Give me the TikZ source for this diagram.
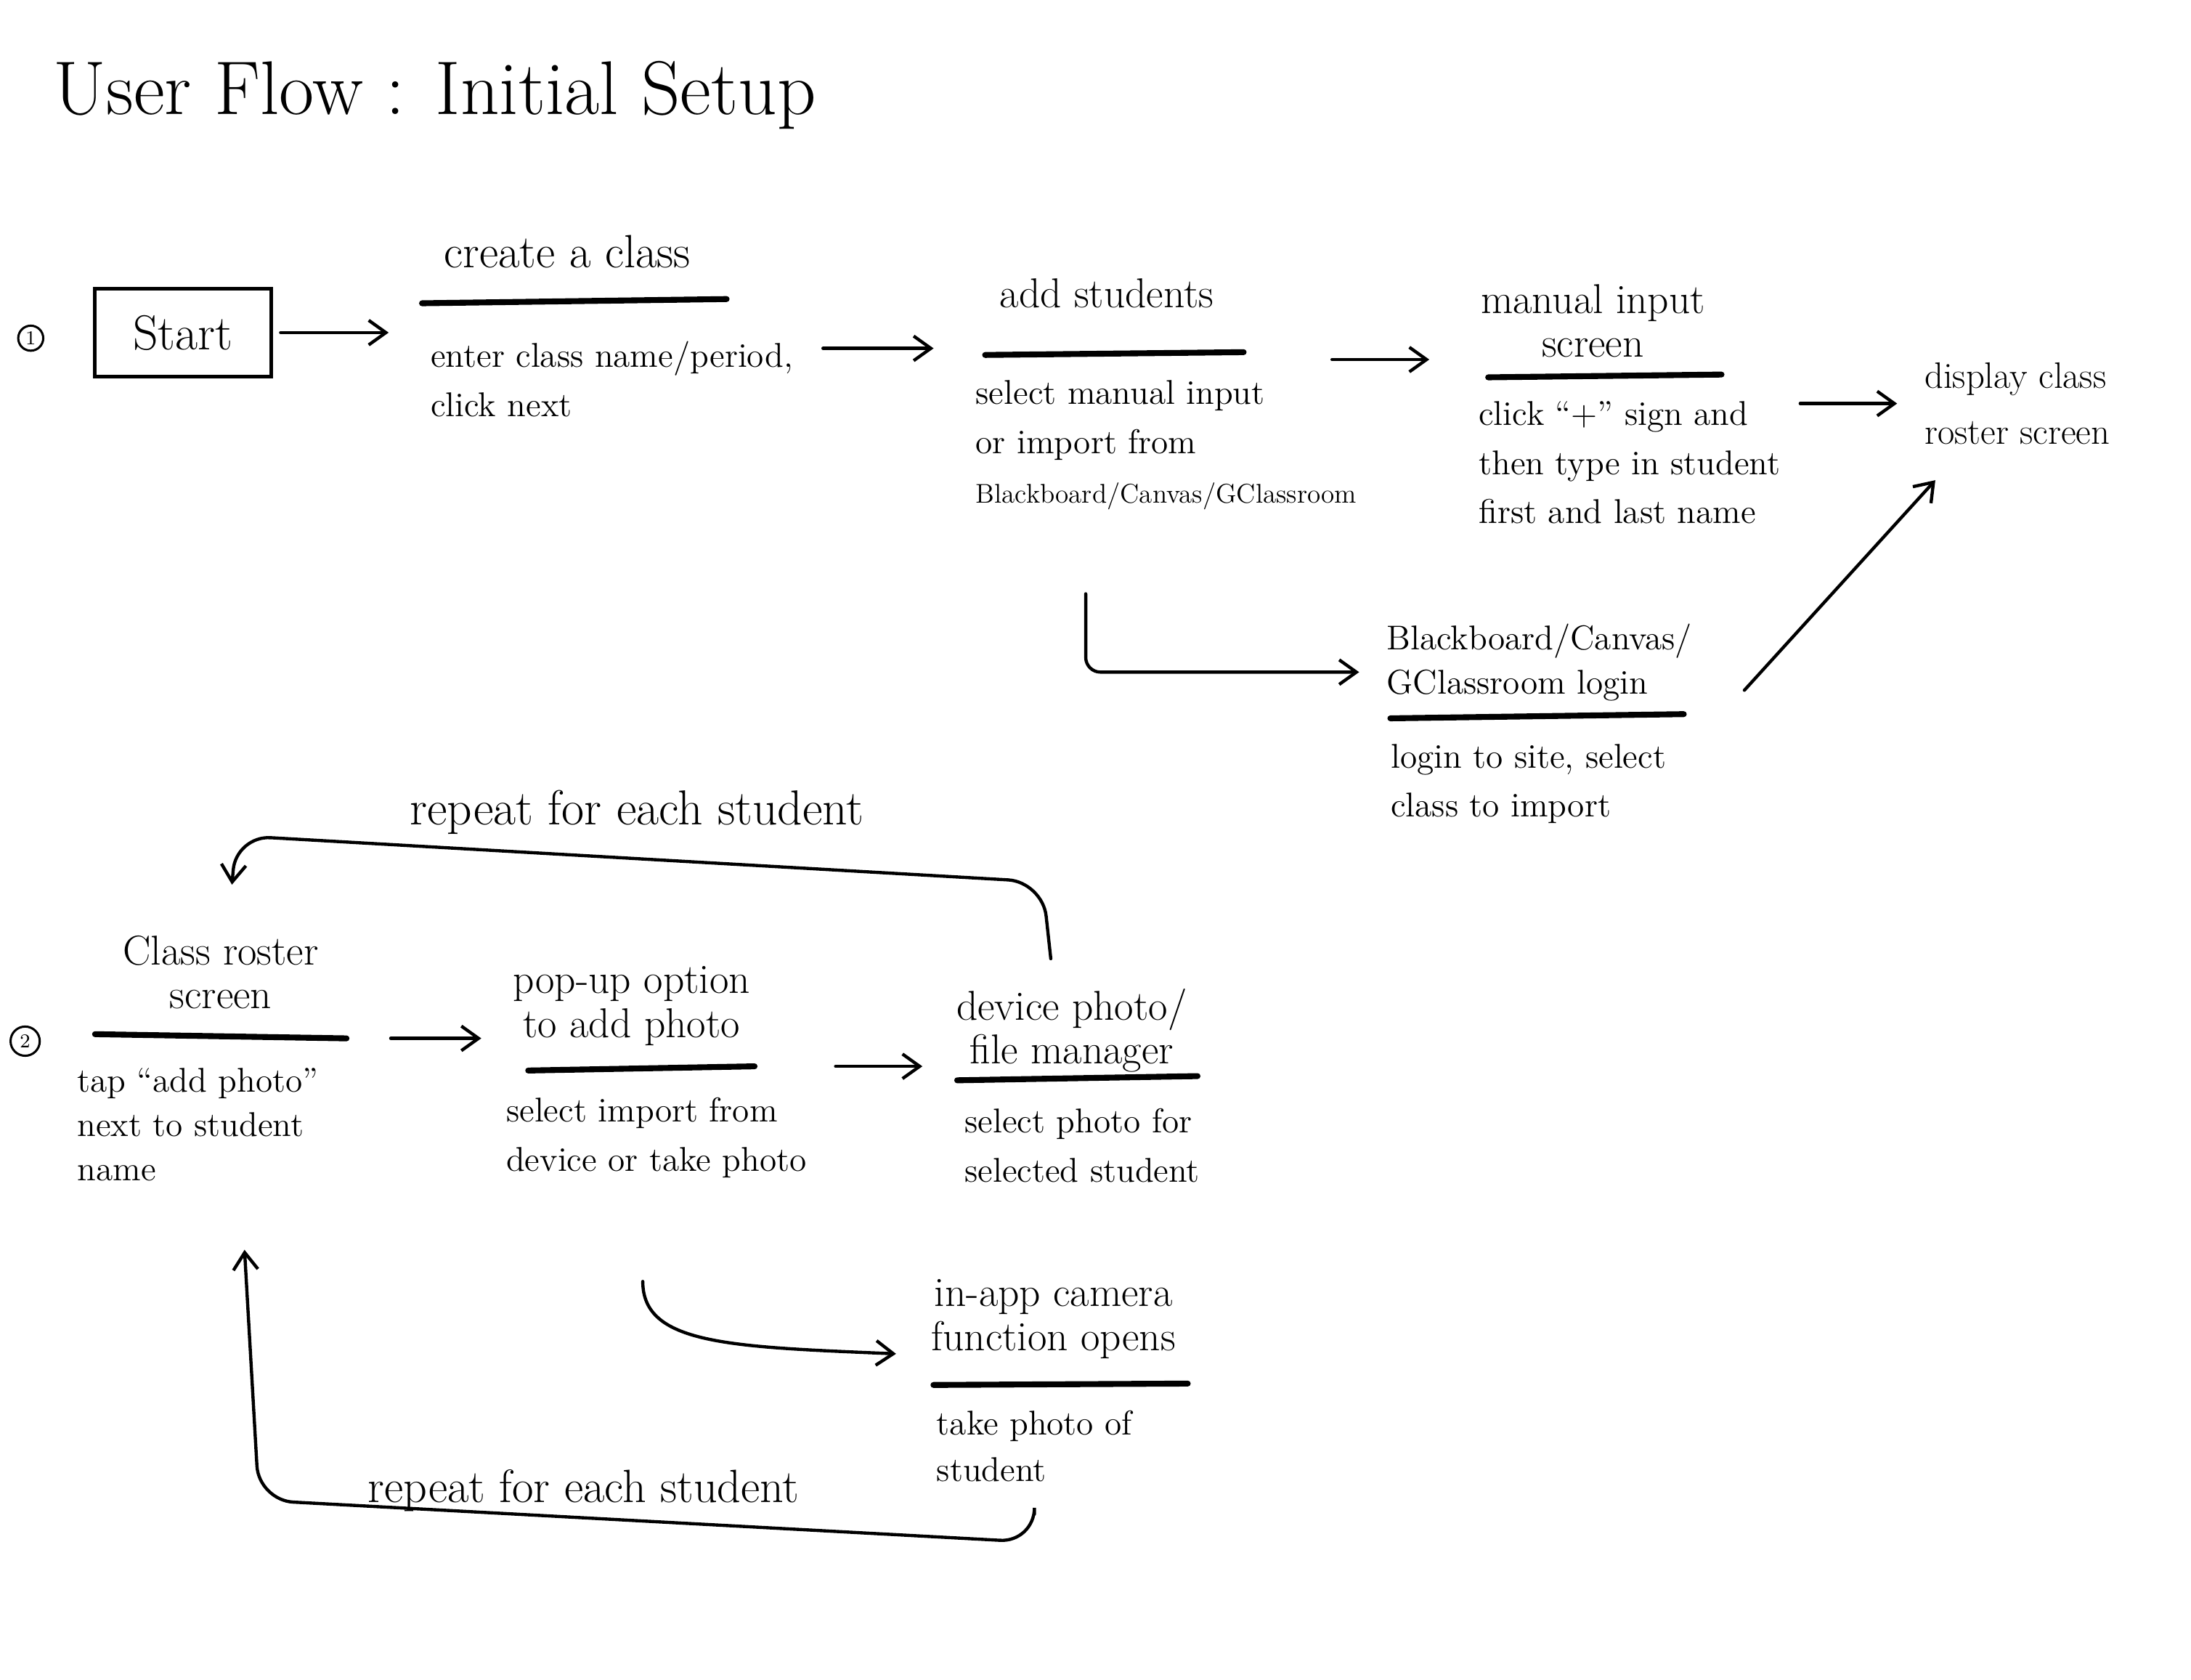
\documentclass[tikz,border=0pt]{standalone}
\usetikzlibrary{arrows.meta,calc}

\begin{document}
\begin{tikzpicture}[x=0.02cm,y=-0.02cm,
  head/.style={font=\fontsize{17}{18}\selectfont, inner sep=0pt, align=center, anchor=north},
  body/.style={font=\fontsize{14}{20}\selectfont, inner sep=0pt, align=left, anchor=north west},
  rule/.style={line width=2.4pt, line cap=round},
  flow/.style={line width=1.3pt, line cap=round, -{Straight Barb[length=7pt,width=10pt]}},
  stepnum/.style={draw, circle, line width=0.9pt, inner sep=1.2pt, font=\fontsize{8}{8}\selectfont}]
\fill[white] (0,0) rectangle (1568,1202);
\useasboundingbox (0,0) rectangle (1568,1202);
\node[anchor=base west, inner sep=0pt, font=\fontsize{31}{33}\selectfont] (title) at (38,82) {User Flow : Initial Setup};
\node[stepnum] (num1) at (22,242) {1};
\node[stepnum, inner sep=1.8pt] (num2) at (18,745) {2};
\node[draw, line width=1.5pt, minimum width=72pt, minimum height=36pt, font=\fontsize{20}{22}\selectfont] (start) at (131,238) {Start};
\node[head, font=\fontsize{19}{20}\selectfont] (createhead) at (406,168) {create a class};
\draw[rule] (302,217) -- (520,214) coordinate (createrule);
\node[body] (enter) at (308,244) {enter class name/period,\\click next};
\node[head] (addhead) at (792,199) {add students};
\draw[rule] (705,254) -- (890,252) coordinate (addrule);
\node[body] (select) at (698,272) {select manual input\\or import from\\{\fontsize{11}{20}\selectfont Blackboard/Canvas/GClassroom}};
\node[head] (manualhead) at (1140,203) {manual input\\screen};
\draw[rule] (1065,270) -- (1232,268) coordinate (manualrule);
\node[body] (clickplus) at (1058,287) {click ``+'' sign and\\then type in student\\first and last name};
\node[body, font=\fontsize{15}{23}\selectfont] (display) at (1377,259) {display class\\roster screen};
\node[body, font=\fontsize{14}{18}\selectfont] (bbhead) at (992,446) {Blackboard/Canvas/\\GClassroom login};
\draw[rule] (995,514) -- (1205,511) coordinate (bbrule);
\node[body] (loginsite) at (995,532) {login to site, select\\class to import};
\draw[flow, shorten <=3pt, shorten >=17pt] (start.east) -- (start.east -| enter.west);
\draw[flow, shorten <=12pt, shorten >=17pt] ([yshift=-3pt]enter.north east) -- ([yshift=-3pt]enter.north east -| select.west);
\draw[flow, shorten <=36pt, shorten >=20pt] ([yshift=-3pt]addrule) -- ([yshift=-3pt]addrule -| clickplus.west);
\draw[flow, shorten <=8pt, shorten >=11pt] ([yshift=-1pt]clickplus.north east) -- ([yshift=-1pt]clickplus.north east -| display.west);
\draw[flow, rounded corners=6pt, shorten >=11pt] ([shift={(79,60)}]select.south west) |- ([yshift=-4pt]bbhead.west);
\draw[flow] ([shift={(37,20)}]bbhead.east) -- ([shift={(8,25)}]display.south west);
\node[head] (rosterhead) at (158,669) {Class roster\\screen};
\draw[rule] (68,740) -- (248,743) coordinate (rosterrule);
\node[body, font=\fontsize{14}{18}\selectfont] (tapadd) at (55,764) {tap ``add photo''\\next to student\\name};
\node[head] (pophead) at (452,691) {pop-up option\\to add photo};
\draw[rule] (378,766) -- (540,763) coordinate (poprule);
\node[body] (importdev) at (362,785) {select import from\\device or take photo};
\node[head] (devhead) at (767,707) {device photo/\\file manager};
\draw[rule] (685,773) -- (857,770) coordinate (devrule);
\node[body] (selphoto) at (690,793) {select photo for\\selected student};
\node[head] (camhead) at (754,915) {in-app camera\\function opens};
\draw[rule] (668,991) -- (850,990) coordinate (camrule);
\node[body, font=\fontsize{14}{19}\selectfont] (takephoto) at (670,1009) {take photo of\\student};
\node[anchor=base west, inner sep=0pt, font=\fontsize{20}{22}\selectfont] (repeattop) at (293,590) {repeat for each student};
\node[anchor=base west, inner sep=0pt, font=\fontsize{19}{21}\selectfont] (repeatbot) at (263,1075) {repeat for each student};
\draw[flow, shorten <=18pt, shorten >=10pt] (rosterrule) -- (rosterrule -| importdev.west);
\draw[flow, shorten <=33pt, shorten >=17pt] (poprule) -- (poprule -| selphoto.west);
\draw[flow, rounded corners=14pt] ([shift={(-15,-21)}]devhead.north) -- ++(-6,-55) -- ++(-577,-33) -- ([shift={(8,-36)}]rosterhead.north);
\draw[flow] ([shift={(98,74)}]importdev.south west) .. controls +(0,45) and +(-120,-5) .. ([shift={(-25,25)}]camhead.west);
\draw[flow, rounded corners=14pt] ([yshift=-13pt]takephoto.south) -- ++(0,20) -- ++(-555,-30) -- ([shift={(120,49)}]tapadd.south west);
\end{tikzpicture}
\end{document}
